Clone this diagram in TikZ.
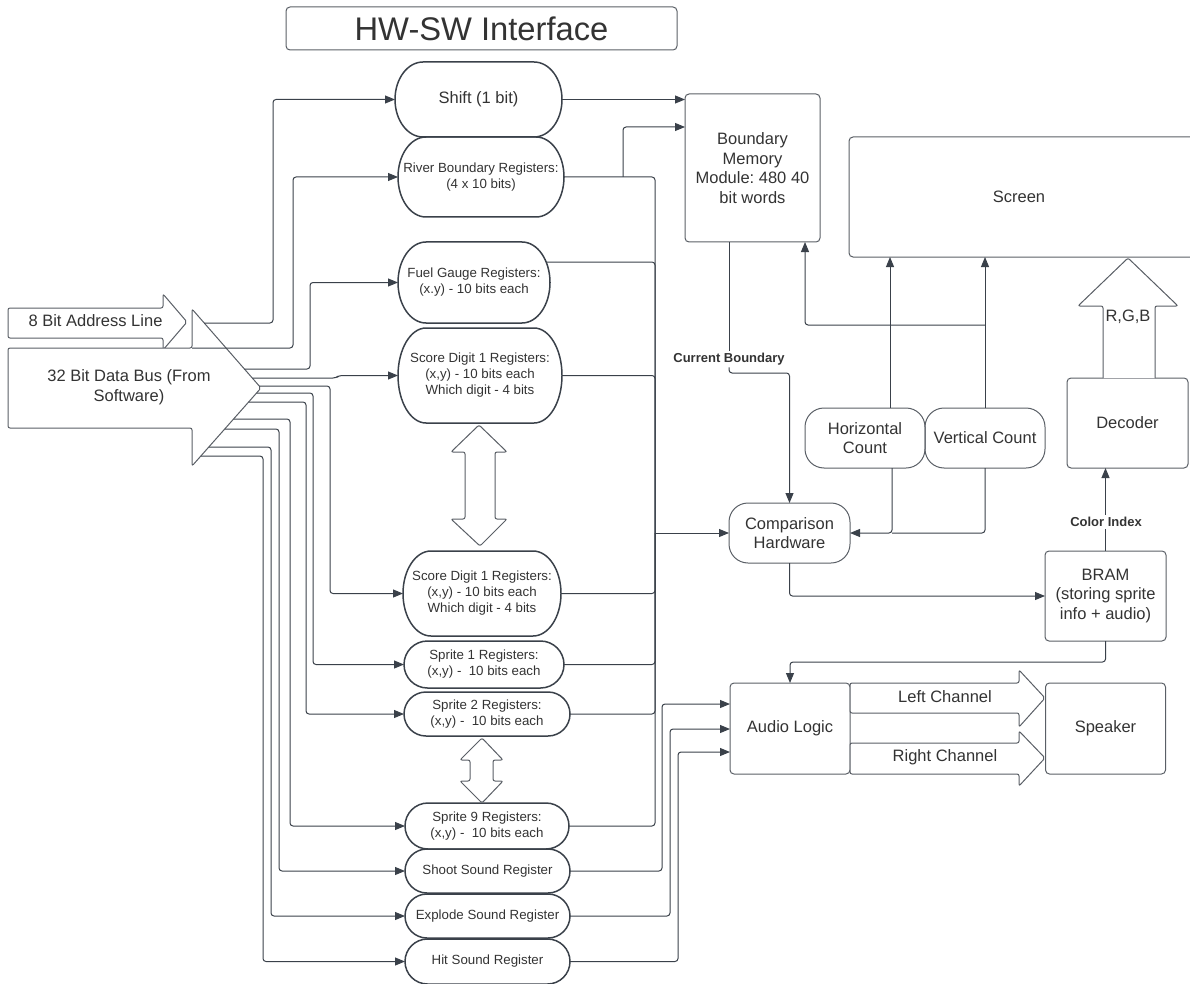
\documentclass[tikz,border=0pt]{standalone}
\usepackage{fontspec}
\setmainfont{Liberation Sans}
\usetikzlibrary{arrows.meta,calc}
\frenchspacing

\definecolor{lc}{HTML}{3A414A}
\definecolor{bc}{HTML}{5A5F66}
\definecolor{tc}{HTML}{333333}

\newcommand\fntreg{\fontsize{13.3}{16}\selectfont}
\newcommand\fntbox{\fontsize{16.5}{19.5}\selectfont}
\newcommand\fntlbl{\bfseries\fontsize{13}{15}\selectfont}
\newcommand\fntttl{\fontsize{32.7}{38}\selectfont}

% outline of a register: flat top and bottom, elliptic ends
\newcommand\regoutline[2]{%
  \draw[regline] let \p1=(#1.north west), \p2=(#1.south east),
    \n1={(\y1-\y2)/2}, \n2={min(#2pt,\n1)} in
    (\x1+\n2,\y1) -- (\x2-\n2,\y1)
    arc[start angle=90,end angle=-90,x radius=\n2,y radius=\n1]
    -- (\x1+\n2,\y2)
    arc[start angle=270,end angle=90,x radius=\n2,y radius=\n1] -- cycle;}

\tikzset{
  conn/.style={draw=lc, line width=1pt, rounded corners=3pt},
  arr/.style={conn, -{Triangle[length=10pt,width=8pt]}},
  regline/.style={draw=lc, line width=1.5pt},
  reg/.style={draw=none, inner sep=0pt, outer sep=0pt, align=center, font=\fntreg, text=tc},
  box/.style={draw=bc, line width=1pt, rounded corners=4pt, inner sep=0pt, outer sep=0pt,
              align=center, font=\fntbox, text=tc},
  boxline/.style={draw=bc, line width=1pt, rounded corners=4pt},
  pill/.style={box, rounded corners=19pt},
  bigarrow/.style={draw=bc, line width=1pt, fill=white, rounded corners=2pt},
  lbl/.style={font=\fntlbl, text=tc, inner sep=2pt},
  txt/.style={font=\fntbox, text=tc, align=center, inner sep=0pt},
}

\begin{document}
\begin{tikzpicture}[x=1pt,y=-1pt]
\useasboundingbox (0,0) rectangle (1190,984);

% ---------- title ----------
\node[box, minimum width=391pt, minimum height=43pt, font=\fntttl] (title) at (481.5,28.5) {HW-SW Interface};

% ---------- input buses ----------
\draw[bigarrow] (8,308) -- (163,308) -- (163,294) -- (187,322) -- (163,350) -- (163,338) -- (8,338) -- cycle;
\node[txt] (addrtxt) at (95.5,321) {8 Bit Address Line};
\draw[bigarrow] (8,348) -- (192,348) -- (192,309) -- (261,388) -- (192,466) -- (192,428) -- (8,428) -- cycle;
\node[txt] (bustxt) at (129,387) {32 Bit Data Bus (From\\Software)};

% ---------- registers ----------
\node[reg, font=\fntbox, minimum width=167pt, minimum height=75pt] (shift) at (478.5,99.5) {Shift (1 bit)};
\node[reg, minimum width=166pt, minimum height=80pt] (river) at (481,177) {River Boundary Registers:\\(4 x 10 bits)};
\node[reg, minimum width=152pt, minimum height=81pt] (fuel) at (474,282.5) {Fuel Gauge Registers:\\(x.y) - 10 bits each};
\node[reg, minimum width=164pt, minimum height=95pt] (scoreA) at (480,375.5) {Score Digit 1 Registers:\\(x,y) - 10 bits each\\Which digit - 4 bits};
\node[reg, minimum width=158pt, minimum height=85pt] (scoreB) at (482,593.5) {Score Digit 1 Registers:\\(x,y) - 10 bits each\\Which digit - 4 bits};
\node[reg, minimum width=160pt, minimum height=47pt] (spr1) at (484,664.5) {Sprite 1 Registers:\\(x,y) -~~10 bits each};
\node[reg, minimum width=166pt, minimum height=44pt] (spr2) at (487,714) {Sprite 2 Registers:\\(x,y) -~~10 bits each};
\node[reg, minimum width=164pt, minimum height=46pt] (spr9) at (487,826) {Sprite 9 Registers:\\(x,y) -~~10 bits each};
\node[reg, minimum width=165pt, minimum height=44pt] (shoot) at (487.5,871) {Shoot Sound Register};
\node[reg, minimum width=165pt, minimum height=44pt] (explode) at (487.5,916) {Explode Sound Register};
\node[reg, minimum width=165pt, minimum height=45pt] (hit) at (487.5,961.5) {Hit Sound Register};

\regoutline{shift}{28}
\regoutline{river}{28}
\regoutline{fuel}{28}
\regoutline{scoreA}{28}
\regoutline{scoreB}{28}
\regoutline{spr1}{28}
\regoutline{spr2}{28}
\regoutline{spr9}{28}
\regoutline{shoot}{28}
\regoutline{explode}{28}
\regoutline{hit}{28}

% "and so on" double arrows between register groups
\draw[bigarrow] (479,425) -- (507,452) -- (495,452) -- (495,519) -- (507,519) -- (480,546)
  -- (451,519) -- (465,519) -- (465,452) -- (451,452) -- cycle;
\draw[bigarrow] (482,738) -- (503,760) -- (493,760) -- (493,781) -- (503,781) -- (482,803)
  -- (460,781) -- (470,781) -- (470,760) -- (460,760) -- cycle;

% ---------- hardware blocks ----------
\node[box, minimum width=135pt, minimum height=148pt] (bm) at (752.5,168) {Boundary\\Memory\\Module: 480 40\\bit words};
% the screen runs on past the right margin
\node[box, draw=none, minimum width=340pt, minimum height=120pt] (screen) at (1019,197) {Screen};
\draw[boxline] (screen.north west) rectangle ($(screen.south east)+(30,0)$);
\node[box, minimum width=121pt, minimum height=90pt] (dec) at (1127.5,423) {Decoder};
\node[box, minimum width=121pt, minimum height=90pt] (bram) at (1105.5,596) {BRAM\\(storing sprite\\info + audio)};
\node[box, minimum width=120pt, minimum height=91pt] (audio) at (790,728.5) {Audio Logic};
\node[box, minimum width=120pt, minimum height=91pt] (spk) at (1105.5,728.5) {Speaker};
\node[pill, minimum width=121pt, minimum height=60pt] (comp) at (789.5,533) {Comparison\\Hardware};
\node[pill, minimum width=120pt, minimum height=60pt] (hc) at (865,438) {Horizontal\\Count};
\node[pill, minimum width=120pt, minimum height=60pt] (vc) at (985,438) {Vertical Count};

% R,G,B output towards the screen
\draw[bigarrow] (1103,378) -- (1103,306) -- (1078,306) -- (1128,258) -- (1178,306) -- (1155,306) -- (1155,378);
\node[txt] (rgb) at (1128,317) {R,G,B};

% stereo channels
\draw[bigarrow] (850,683) -- (1019,683) -- (1019,670) -- (1045,698) -- (1019,727) -- (1019,713) -- (850,713) -- cycle;
\node[txt] (lch) at (945,697) {Left Channel};
\draw[bigarrow] (850,743) -- (1019,743) -- (1019,731) -- (1045,758) -- (1019,786) -- (1019,774) -- (850,774) -- cycle;
\node[txt] (rch) at (945,757) {Right Channel};

% ---------- data bus fan-out ----------
\coordinate (d1) at (204.2,323);
\coordinate (d2) at (192,348);
\coordinate (d3) at (244.4,369);
\coordinate (d4) at (252.3,378);
\coordinate (d5) at (259.3,386);
\coordinate (d6) at (256.6,393);
\coordinate (d7) at (248.6,402);
\coordinate (d8) at (233.6,419);
\coordinate (d9) at (224.7,429);
\coordinate (d10) at (208.8,447);
\coordinate (d11) at (200.8,456);

\draw[arr] (d1) -| (273,0 |- shift.west) -- (shift.west);
\draw[arr] (d2) -| (293,0 |- river.west) -- (river.west);
\draw[arr] (d3) -| (310,0 |- fuel.west) -- (fuel.west);
\draw[arr] (d4) -- (336,378) -- (339,375.5) -- (scoreA.west);
\draw[arr] (d5) -| (330,0 |- scoreB.west) -- (scoreB.west);
\draw[arr] (d6) -| (313,0 |- spr1.west) -- (spr1.west);
\draw[arr] (d7) -| (306,0 |- spr2.west) -- (spr2.west);
\draw[arr] (d8) -| (290,0 |- spr9.west) -- (spr9.west);
\draw[arr] (d9) -| (279,0 |- shoot.west) -- (shoot.west);
\draw[arr] (d10) -| (271,0 |- explode.west) -- (explode.west);
\draw[arr] (d11) -| (263,0 |- hit.west) -- (hit.west);

% ---------- register outputs ----------
\coordinate (jn) at (655,533);
\coordinate (fuelout) at (546,262);
\coordinate (rb) at (623,177);
\draw[conn] (river.east) -| (jn);
\draw[conn] (fuelout) -| (jn);
\draw[conn] (scoreA.east) -| (jn);
\draw[conn] (scoreB.east) -| (jn);
\draw[conn] (spr1.east) -| (jn);
\draw[conn] (spr2.east) -| (jn);
\draw[conn] (spr9.east) -| (jn);
\draw[arr] (jn) -- (comp.west);

\draw[arr] (shift.east) -- (shift.east -| bm.west);
\draw[arr] (rb) |- (623,127 -| bm.west);

% boundary memory to comparison
\node[lbl] (cb) at (729,359) {Current Boundary};
\draw[conn] (cb.north |- bm.south) -- (cb.north);
\draw[arr] (cb.south) |- (comp.north |- 0,373) -- (comp.north);

% pixel counters
\coordinate (hct) at (890,0 |- hc.north);
\coordinate (hcb) at (892,0 |- hc.south);
\draw[arr] (hct) -- (hct |- screen.south);
\draw[arr] (vc.north) -- (vc.north |- screen.south);
\draw[arr] (vc.north |- 0,325) -| (805,0 |- bm.south);
\draw[arr] (hcb) |- (comp.east);
\draw[conn] (vc.south) |- (hcb |- comp.east);

% comparison, sprite memory, decoder
\draw[arr] (comp.south) |- (bram.west);
\draw[arr] (bram.north) -- (bram.north |- dec.south);
\node[lbl, fill=white] (ci) at (1106,522) {Color Index};
\draw[arr] (bram.south) |- (audio.north |- 0,662) -- (audio.north);

% sound registers to audio logic
\draw[arr] (shoot.east) -| (662,704) -- (662,704 -| audio.west);
\draw[arr] (explode.east) -| (670,729) -- (670,729 -| audio.west);
\draw[arr] (hit.east) -| (678,752) -- (678,752 -| audio.west);
\end{tikzpicture}
\end{document}
